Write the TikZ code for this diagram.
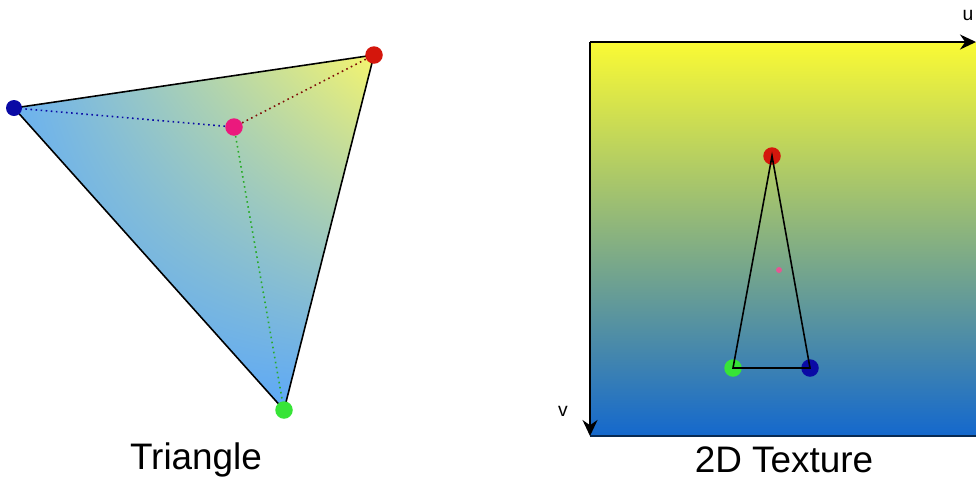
\documentclass[tikz,border=0pt]{standalone}
\usepackage{fontspec}
\setmainfont{Liberation Sans}
\usetikzlibrary{arrows.meta, positioning, shadings}
\definecolor{triblue}{RGB}{92, 168, 248}
\definecolor{trimid}{RGB}{150, 205, 215}
\definecolor{triyellow}{RGB}{245, 245, 110}
\definecolor{texyellow}{RGB}{250, 250, 52}
\definecolor{texgreen}{RGB}{110, 165, 125}
\definecolor{texblue}{RGB}{20, 104, 205}
\definecolor{dotblue}{RGB}{10, 10, 165}
\definecolor{dotred}{RGB}{212, 22, 12}
\definecolor{dotgreen}{RGB}{55, 228, 55}
\definecolor{dotpink}{RGB}{235, 25, 125}

\begin{document}
\begin{tikzpicture}[x=0.02cm, y=-0.02cm,
        vdot/.style={circle, inner sep=0pt, minimum size=0.35cm},
        smalldot/.style={circle, inner sep=0pt, minimum size=0.12cm, fill=dotpink!60!purple!70!white},
        edge/.style={draw=black, line width=0.9pt},
        guide/.style={dotted, line width=0.9pt},
        axis/.style={line width=1pt, -{Stealth[length=3.2mm, width=3mm]}},
        caption/.style={font=\fontsize{21}{24}\selectfont},
        axlabel/.style={font=\fontsize{11}{13}\selectfont}
    ]
        \useasboundingbox (0,0) rectangle (976,481);

        % Triangle
        \coordinate (ta) at (14,108);
        \coordinate (tb) at (374,55);
        \coordinate (tc) at (284,410);
        \coordinate (tp) at (234,127);
        \shade[lower left=triblue, lower right=triblue, upper left=triblue!70!trimid, upper right=triyellow] (ta) -- (tb) -- (tc) -- cycle;
        \node[vdot, fill=dotpink] (pp) at (tp) {};
        \draw[guide, dotblue] (pp) -- (ta);
        \draw[guide, dotred!60!black] (pp) -- (tb);
        \draw[guide, dotgreen!75!black] (pp) -- (tc);
        \draw[edge] (ta) -- (tb) -- (tc) -- cycle;
        \node[vdot, fill=dotblue, minimum size=0.32cm] (pa) at (ta) {};
        \node[vdot, fill=dotred] (pb) at (tb) {};
        \node[vdot, fill=dotgreen] (pc) at (tc) {};
        \node[caption] (tricap) at (196,460) {Triangle};

        % 2D Texture
        \coordinate (origin) at (590,42);
        \coordinate (uend) at (976,42);
        \coordinate (vend) at (590,436);
        \coordinate (corner) at (976,436);
        \shade[top color=texyellow, middle color=texgreen, bottom color=texblue] (origin) rectangle (corner);
        \draw[line width=1.2pt, texblue!40!black] (vend) -- (corner);
        \draw[axis] (origin) -- (uend);
        \draw[axis] (origin) -- (vend);
        \node[axlabel] (ulabel) at (968,15) {u};
        \node[axlabel] (vlabel) at (563,411) {v};

        \node[vdot, fill=dotred] (ua) at (772,156) {};
        \node[vdot, fill=dotgreen] (ub) at (733,368) {};
        \node[vdot, fill=dotblue] (uc) at (810,368) {};
        \node[smalldot] (up) at (779,270) {};
        \draw[edge] (ua.center) -- (ub.center) -- (uc.center) -- cycle;
        \node[caption] (texcap) at (784,460) {2D Texture};
    \end{tikzpicture}
\end{document}
